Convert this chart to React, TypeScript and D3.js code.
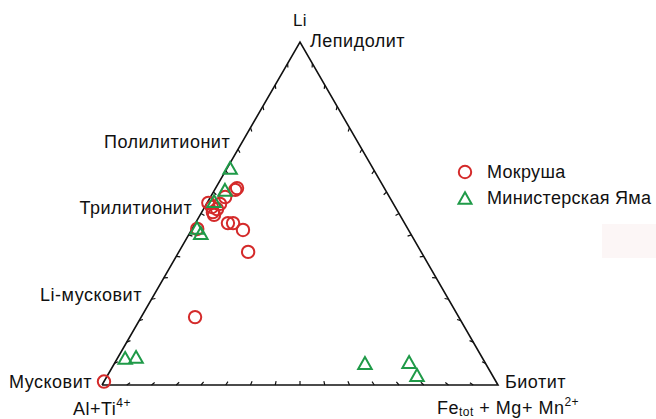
import React from 'react';
import * as d3 from 'd3';

// ternary coordinates: Li fraction and Fe(tot)+Mg+Mn fraction, Al+Ti is the rest
const mokrushaLi = [0.01, 0.198, 0.388, 0.452, 0.472, 0.472, 0.574, 0.569, 0.548, 0.531, 0.504, 0.513, 0.519, 0.528, 0.455, 0.496];
const mokrushaFe = [0.0, 0.136, 0.175, 0.130, 0.095, 0.082, 0.054, 0.052, 0.037, 0.003, 0.028, 0.034, 0.018, 0.034, 0.013, 0.035];

const yamaLi = [0.633, 0.569, 0.536, 0.458, 0.443, 0.079, 0.082, 0.064, 0.067, 0.029];
const yamaFe = [0.007, 0.026, 0.015, 0.011, 0.028, 0.019, 0.045, 0.632, 0.742, 0.781];

// mineral names along the Al-Li edge (by Li fraction)
const edgeNames = ['Мусковит', 'Li-мусковит', 'Трилитионит', 'Полилитионит'];
const edgeLevels = [0.01, 0.262, 0.516, 0.708];

const legendNames = ['Мокруша', 'Министерская Яма'];

const W = 656, H = 419;
const FONT = '"Liberation Sans", Arial, sans-serif';
const RED = '#d42a2a';
const GREEN = '#1f9a48';

const xs = d3.scaleLinear().domain([0, 1]).range([102, 498]);
const ys = d3.scaleLinear().domain([0, 1]).range([385, 42]);

function project(li: number, fe: number): [number, number] {
    return [xs(fe + li / 2), ys(li)];
}

function triPath(cx: number, cy: number, s: number) {
    const h = s * 0.88;
    return 'M' + cx + ',' + (cy - h / 2) + 'L' + (cx + s / 2) + ',' + (cy + h / 2) + 'L' + (cx - s / 2) + ',' + (cy + h / 2) + 'Z';
}

export default function App() {
    const A = project(0, 0);
    const B = project(0, 1);
    const C = project(1, 0);

    // tick marks, 16 divisions per side, pointing inward
    const ticks: string[] = [];
    const sides: [number, number][][] = [[A, B], [B, C], [C, A]];
    const centre = [(A[0] + B[0] + C[0]) / 3, (A[1] + B[1] + C[1]) / 3];
    sides.forEach(([p, q]) => {
        d3.range(1, 16).forEach(k => {
            const t = k / 16;
            const x = p[0] + (q[0] - p[0]) * t;
            const y = p[1] + (q[1] - p[1]) * t;
            const dx = centre[0] - x, dy = centre[1] - y;
            const len = Math.hypot(dx, dy);
            ticks.push('M' + x + ',' + y + 'L' + (x + dx / len * 4) + ',' + (y + dy / len * 4));
        });
    });

    const frame = d3.line()([A, B, C, A]);

    return (
        <svg width={W} height={H} style={{ position: 'absolute', left: 0, top: 0, background: '#fff' }}
            fontFamily={FONT}>
            <rect x={0} y={0} width={W} height={H} fill="#fff" />
            <rect x={602} y={224} width={54} height={34} fill="#fcf6f6" />
            <path d={frame || ''} fill="none" stroke="#111" strokeWidth={1.6} strokeLinejoin="miter" />
            <path d={ticks.join('')} stroke="#111" strokeWidth={1.2} />

            {mokrushaLi.map((li, i) => {
                const [x, y] = project(li, mokrushaFe[i]);
                return <circle key={'m' + i} cx={x} cy={y} r={6.2} fill="none" stroke={RED} strokeWidth={2} />;
            })}
            {yamaLi.map((li, i) => {
                const [x, y] = project(li, yamaFe[i]);
                return <path key={'y' + i} d={triPath(x, y, 13.5)} fill="none" stroke={GREEN} strokeWidth={2} strokeLinejoin="miter" />;
            })}

            <g fontSize={18} fill="#111" letterSpacing={0.5}>
                <text x={C[0]} y={26} textAnchor="middle" fontSize={17}>Li</text>
                <text x={C[0] + 10} y={47}>Лепидолит</text>
                <text x={B[0] + 7} y={388}>Биотит</text>
                {edgeNames.map((name, i) => {
                    const [x, y] = project(edgeLevels[i], 0);
                    return <text key={name} x={x - 12} y={y + 6} textAnchor="end">{name}</text>;
                })}
                <text x={73} y={415}>Al+Ti<tspan fontSize={12} dy={-8}>4+</tspan></text>
                <text x={437} y={414}>Fe<tspan fontSize={12} dy={2}>tot</tspan><tspan dy={-2}> + Mg+ Mn</tspan><tspan fontSize={12} dy={-8}>2+</tspan></text>
            </g>

            <g fontSize={18} fill="#111" letterSpacing={0.3}>
                <circle cx={465} cy={172} r={6.2} fill="none" stroke={RED} strokeWidth={2} />
                <text x={487} y={178}>{legendNames[0]}</text>
                <path d={triPath(465, 198, 13)} fill="none" stroke={GREEN} strokeWidth={2} />
                <text x={487} y={204}>{legendNames[1]}</text>
            </g>
        </svg>
    );
}
